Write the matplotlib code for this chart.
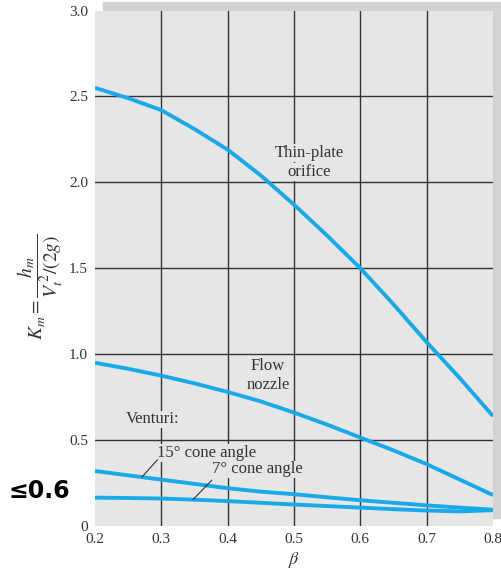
import matplotlib
matplotlib.use("Agg")
import matplotlib.pyplot as plt
from matplotlib.patches import Rectangle

plt.rcParams['font.family'] = ['Liberation Serif', 'DejaVu Serif']
plt.rcParams['mathtext.fontset'] = 'stix'

# values
beta = [0.2, 0.25, 0.3, 0.35, 0.4, 0.45, 0.5, 0.55, 0.6, 0.65, 0.7, 0.75, 0.8]
orifice = [2.55, 2.49, 2.42, 2.31, 2.19, 2.04, 1.87, 1.69, 1.50, 1.29, 1.07, 0.86, 0.64]
nozzle = [0.95, 0.915, 0.875, 0.83, 0.78, 0.725, 0.66, 0.59, 0.515, 0.44, 0.36, 0.27, 0.18]
venturi15 = [0.32, 0.295, 0.27, 0.245, 0.22, 0.20, 0.185, 0.167, 0.15, 0.135, 0.12, 0.107, 0.095]
venturi7 = [0.165, 0.163, 0.16, 0.153, 0.145, 0.135, 0.125, 0.116, 0.107, 0.098, 0.09, 0.085, 0.092]
xticks = [0.2, 0.3, 0.4, 0.5, 0.6, 0.7, 0.8]
xticklabels = ['0.2', '0.3', '0.4', '0.5', '0.6', '0.7', '0.8']
yticks = [0, 0.5, 1.0, 1.5, 2.0, 2.5, 3.0]
yticklabels = ['0', '0.5', '1.0', '1.5', '2.0', '2.5', '3.0']

blue = '#1aa9e8'
txt = '#333333'
bg = '#e6e6e6'

fig = plt.figure(figsize=(5.01, 5.75), dpi=100)
# drop shadow behind the plot area
shadow = Rectangle((103/501, 1-518/575), (501-103)/501, (518-2)/575,
                   transform=fig.transFigure, color='#d2d2d2', zorder=-5)
fig.patches.append(shadow)
ax = fig.add_axes([95/501, 1-526/575, (493-95)/501, (526-10.5)/575])
ax.set_zorder(2)
ax.set_facecolor(bg)
ax.set_xlim(0.2, 0.8)
ax.set_ylim(0, 3.0)
for s in ax.spines.values():
    s.set_visible(False)

for x in xticks[1:-1]:
    ax.axvline(x, color='#333333', lw=1, zorder=1)
for y in yticks[1:-1]:
    ax.axhline(y, color='#333333', lw=1, zorder=1)

for ys in [orifice, nozzle, venturi15, venturi7]:
    ax.plot(beta, ys, color=blue, lw=2.8, zorder=3, solid_capstyle='butt')

ax.set_xticks(xticks)
ax.set_xticklabels(xticklabels)
ax.set_yticks(yticks)
ax.set_yticklabels(yticklabels)
ax.tick_params(length=0, labelsize=11, labelcolor=txt, pad=5)

fs = 12
box = dict(facecolor=bg, edgecolor='none', pad=0.5)
ax.text(0.523, 2.17, 'Thin-plate', ha='center', va='center', fontsize=fs, color=txt, bbox=box, zorder=2)
ax.text(0.523, 2.06, 'orifice', ha='center', va='center', fontsize=fs, color=txt, bbox=box, zorder=2)
ax.text(0.461, 0.93, 'Flow', ha='center', va='center', fontsize=fs, color=txt, bbox=box, zorder=2)
ax.text(0.461, 0.82, 'nozzle', ha='center', va='center', fontsize=fs, color=txt, bbox=box, zorder=2)
ax.text(0.246, 0.62, 'Venturi:', ha='left', va='center', fontsize=fs, color=txt, bbox=box, zorder=2)
ax.text(0.293, 0.425, '15° cone angle', ha='left', va='center', fontsize=fs, color=txt, bbox=box, zorder=2)
ax.text(0.376, 0.33, '7° cone angle', ha='left', va='center', fontsize=fs, color=txt, bbox=box, zorder=2)
ax.plot([0.294, 0.271], [0.385, 0.286], color=txt, lw=0.8, zorder=4)
ax.plot([0.376, 0.348], [0.266, 0.155], color=txt, lw=0.8, zorder=4)

ax.set_xlabel(r'$\beta$', fontsize=13, color=txt, labelpad=3)
fig.text(40/501, 1-287/575, r'$K_m = \dfrac{h_m}{V_t^{\,2}/(2g)}$', rotation=90,
         ha='center', va='center', fontsize=14, color=txt)

# handwritten note at the left edge
fig.text(70/501, 1-491/575, '≤0.6', ha='right', va='center', fontsize=17,
         fontweight='bold', color='black', family=['DejaVu Sans'])

fig.savefig('out.png', dpi=100)
